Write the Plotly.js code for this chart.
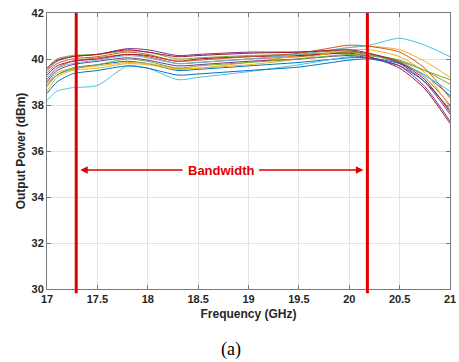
<!DOCTYPE html>
<html>
<head>
<meta charset="utf-8">
<script src="https://cdn.plot.ly/plotly-3.0.1.min.js"></script>
<style>html,body{margin:0;padding:0;background:#fff;}#chart{width:459px;height:362px;}</style>
</head>
<body>
<div id="chart"></div>
<script>
// Frequency points (GHz)
const freq = [17, 17.1, 17.25, 17.5, 17.8, 18, 18.3, 18.5, 19, 19.5, 20, 20.2, 20.5, 20.75, 21];
// Output power (dBm) for each measured curve
const s1  = [38.9, 39.3, 39.6, 39.75, 39.9, 39.8, 39.5, 39.55, 39.7, 39.85, 40.05, 40.05, 39.8, 39.3, 38.4];
const s2  = [39.1, 39.6, 39.9, 40.05, 40.2, 40.1, 39.8, 39.85, 40.0, 40.1, 40.3, 40.2, 39.9, 39.2, 38.0];
const s3  = [38.6, 39.2, 39.5, 39.6, 39.8, 39.75, 39.55, 39.6, 39.85, 40.15, 40.5, 40.55, 40.4, 39.9, 39.2];
const s4  = [39.5, 39.9, 40.1, 40.2, 40.45, 40.4, 40.15, 40.2, 40.3, 40.3, 40.35, 40.2, 39.8, 39.0, 37.6];
const s5  = [39.6, 40.0, 40.15, 40.2, 40.35, 40.3, 40.0, 40.05, 40.15, 40.2, 40.3, 40.2, 39.95, 39.5, 38.9];
const s6  = [38.2, 38.6, 38.75, 38.85, 39.7, 39.6, 39.1, 39.2, 39.45, 39.75, 40.1, 40.15, 39.85, 39.3, 38.6];
const s7  = [39.3, 39.7, 39.9, 40.0, 40.2, 40.15, 39.9, 40.0, 40.1, 40.15, 40.25, 40.1, 39.6, 38.7, 37.2];
const s8  = [38.5, 39.0, 39.35, 39.5, 39.7, 39.6, 39.3, 39.35, 39.5, 39.65, 39.95, 40.0, 39.7, 39.0, 37.8];
const s9  = [39.4, 39.8, 40.0, 40.1, 40.3, 40.2, 39.9, 39.95, 40.1, 40.25, 40.6, 40.55, 40.3, 39.6, 38.3];
const s10 = [38.9, 39.4, 39.6, 39.7, 39.85, 39.8, 39.6, 39.6, 39.75, 40.0, 40.4, 40.4, 40.1, 39.4, 37.9];
const s11 = [39.0, 39.5, 39.75, 39.9, 40.05, 39.95, 39.7, 39.75, 39.9, 40.0, 40.15, 40.05, 39.7, 38.8, 37.3];
const s12 = [38.8, 39.3, 39.55, 39.75, 40.0, 39.9, 39.6, 39.7, 39.85, 40.0, 40.2, 40.15, 39.9, 39.5, 39.1];
const s13 = [39.2, 39.6, 39.8, 39.95, 40.15, 40.05, 39.8, 39.85, 40.0, 40.2, 40.5, 40.6, 40.9, 40.6, 40.1];
const s14 = [39.6, 39.95, 40.1, 40.2, 40.4, 40.3, 40.1, 40.15, 40.25, 40.3, 40.4, 40.25, 39.85, 39.1, 37.7];
const series = [s1, s2, s3, s4, s5, s6, s7, s8, s9, s10, s11, s12, s13, s14];
const colors = ['#0072BD', '#D95319', '#EDB120', '#7E2F8E', '#77AC30', '#4DBEEE', '#A2142F'];

// Bandwidth edges (GHz) and arrow level (dBm)
const bwEdges = [17.29, 20.18];
const arrowLevel = 35.17;
const bwLabel = 'Bandwidth';
const bwLabelX = 18.73;
const arrowLeftTail = 18.36;
const arrowRightTail = 19.09;

const xTicks = [17, 17.5, 18, 18.5, 19, 19.5, 20, 20.5, 21];
const xTickText = ['17', '17.5', '18', '18.5', '19', '19.5', '20', '20.5', '21'];
const yTicks = [30, 32, 34, 36, 38, 40, 42];

const traces = series.map((s, i) => ({
  x: freq, y: s, type: 'scatter', mode: 'lines',
  line: {color: colors[i % colors.length], width: 1, shape: 'spline', smoothing: 0.7},
  hoverinfo: 'skip', showlegend: false
}));

const red = '#e00000';
const shapes = bwEdges.map(f => ({
  type: 'line', xref: 'x', yref: 'paper', x0: f, x1: f, y0: -0.015, y1: 1,
  line: {color: red, width: 3}, layer: 'above'
}));

const annotations = [
  {x: bwLabelX, y: arrowLevel, xref: 'x', yref: 'y', text: '<b>' + bwLabel + '</b>', showarrow: false,
   font: {family: 'Liberation Sans, Arial, sans-serif', size: 13, color: red}},
  {x: bwEdges[0] + 0.04, y: arrowLevel, ax: arrowLeftTail, ay: arrowLevel, xref: 'x', yref: 'y', axref: 'x', ayref: 'y',
   text: '', showarrow: true, arrowhead: 2, arrowsize: 1, arrowwidth: 1.5, arrowcolor: red},
  {x: bwEdges[1] - 0.04, y: arrowLevel, ax: arrowRightTail, ay: arrowLevel, xref: 'x', yref: 'y', axref: 'x', ayref: 'y',
   text: '', showarrow: true, arrowhead: 2, arrowsize: 1, arrowwidth: 1.5, arrowcolor: red},
  {x: 0.457, y: -0.221, xref: 'paper', yref: 'paper', xanchor: 'center', yanchor: 'middle', text: '(a)', showarrow: false,
   font: {family: 'Liberation Serif, Times New Roman, serif', size: 18, color: '#000'}}
];

const tickFont = {family: 'Liberation Sans, Arial, sans-serif', size: 11, color: '#262626'};
const titleFont = {family: 'Liberation Sans, Arial, sans-serif', size: 12, color: '#262626'};
const layout = {
  width: 459, height: 362,
  margin: {l: 47, r: 9, t: 13, b: 73},
  paper_bgcolor: '#fff', plot_bgcolor: '#fff',
  xaxis: {
    range: [17, 21], tickvals: xTicks, ticktext: xTickText.map(t => '<b>' + t + '</b>'),
    showgrid: true, gridcolor: '#e3e3e3', gridwidth: 1, zeroline: false,
    showline: true, linecolor: '#7a7a7a', linewidth: 1, mirror: 'ticks',
    ticks: 'inside', ticklen: 4, tickcolor: '#7a7a7a', tickfont: tickFont,
    title: {text: '<b>Frequency (GHz)</b>', font: titleFont, standoff: 5}
  },
  yaxis: {
    range: [30, 42], tickvals: yTicks, ticktext: yTicks.map(t => '<b>' + t + '</b>'),
    showgrid: true, gridcolor: '#e3e3e3', gridwidth: 1, zeroline: false,
    showline: true, linecolor: '#7a7a7a', linewidth: 1, mirror: 'ticks',
    ticks: 'inside', ticklen: 4, tickcolor: '#7a7a7a', tickfont: tickFont,
    title: {text: '<b>Output Power (dBm)</b>', font: titleFont, standoff: 3}
  },
  shapes: shapes,
  annotations: annotations
};

Plotly.newPlot('chart', traces, layout, {staticPlot: true, displayModeBar: false});
</script>
</body>
</html>
